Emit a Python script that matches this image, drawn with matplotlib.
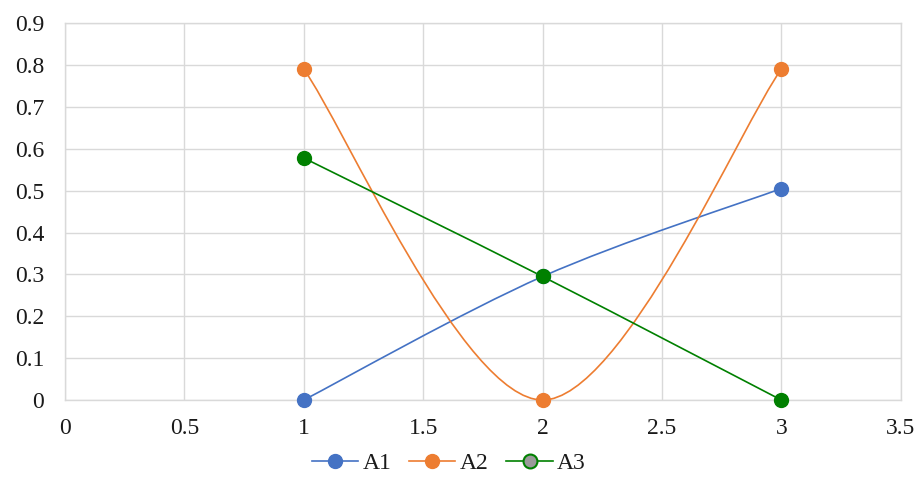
import matplotlib
matplotlib.use('Agg')
import matplotlib.pyplot as plt
from matplotlib.path import Path
from matplotlib.patches import PathPatch
from matplotlib.lines import Line2D
from matplotlib.ticker import FuncFormatter, MultipleLocator

# Data
x_vals = [1, 2, 3]
a1 = [0.0, 0.295, 0.505]
a2 = [0.79, 0.0, 0.79]
a3 = [0.578, 0.295, 0.0]
series_names = ['A1', 'A2', 'A3']
colors = ['#4472C4', '#ED7D31', '#008000']

plt.rcParams['font.family'] = ['Liberation Serif', 'DejaVu Serif']


def smooth_path(xs, ys):
    # Excel-like smoothed line: cubic Bezier segments (Catmull-Rom tangents)
    pts = list(zip(xs, ys))
    verts = [pts[0]]
    codes = [Path.MOVETO]
    n = len(pts)
    for i in range(n - 1):
        p0 = pts[max(i - 1, 0)]
        p1 = pts[i]
        p2 = pts[i + 1]
        p3 = pts[min(i + 2, n - 1)]
        c1 = (p1[0] + (p2[0] - p0[0]) / 6, p1[1] + (p2[1] - p0[1]) / 6)
        c2 = (p2[0] - (p3[0] - p1[0]) / 6, p2[1] - (p3[1] - p1[1]) / 6)
        verts += [c1, c2, p2]
        codes += [Path.CURVE4] * 3
    return Path(verts, codes)


fig = plt.figure(figsize=(9.2, 4.93), dpi=100)
ax = fig.add_axes([0.0707, 0.1886, 0.9083, 0.7644])

for ys, col in zip([a1, a2, a3], colors):
    patch = PathPatch(smooth_path(x_vals, ys), facecolor='none', edgecolor=col,
                      lw=1.2, transform=ax.transData, zorder=3, clip_on=False)
    ax.add_patch(patch)
    ax.plot(x_vals, ys, linestyle='none', marker='o', markersize=10,
            color=col, zorder=4, clip_on=False)

ax.set_xlim(0, 3.5)
ax.set_ylim(0, 0.9)
ax.xaxis.set_major_locator(MultipleLocator(0.5))
ax.yaxis.set_major_locator(MultipleLocator(0.1))
fmt = FuncFormatter(lambda v, p: f'{v:g}')
ax.xaxis.set_major_formatter(fmt)
ax.yaxis.set_major_formatter(fmt)

ax.grid(True, color='#d9d9d9', linewidth=1)
ax.set_axisbelow(True)
for sp in ax.spines.values():
    sp.set_color('#d9d9d9')
    sp.set_linewidth(1)

ax.tick_params(axis='both', length=0, labelsize=17, labelcolor='#1a1a1a')
ax.tick_params(axis='x', pad=13)
ax.tick_params(axis='y', pad=15)

handles = [
    Line2D([], [], color=colors[0], lw=1.2, marker='o', markersize=10),
    Line2D([], [], color=colors[1], lw=1.2, marker='o', markersize=10),
    Line2D([], [], color=colors[2], lw=1.2, marker='o', markersize=10,
           markerfacecolor='#9a9a9a', markeredgecolor=colors[2], markeredgewidth=1.5),
]
fig.legend(handles, series_names, loc='center', bbox_to_anchor=(0.488, 0.06),
           ncol=3, frameon=False, fontsize=17, handlelength=1.95,
           handletextpad=0.2, columnspacing=0.75, labelcolor='#1a1a1a')

fig.savefig('out.png', dpi=100)
